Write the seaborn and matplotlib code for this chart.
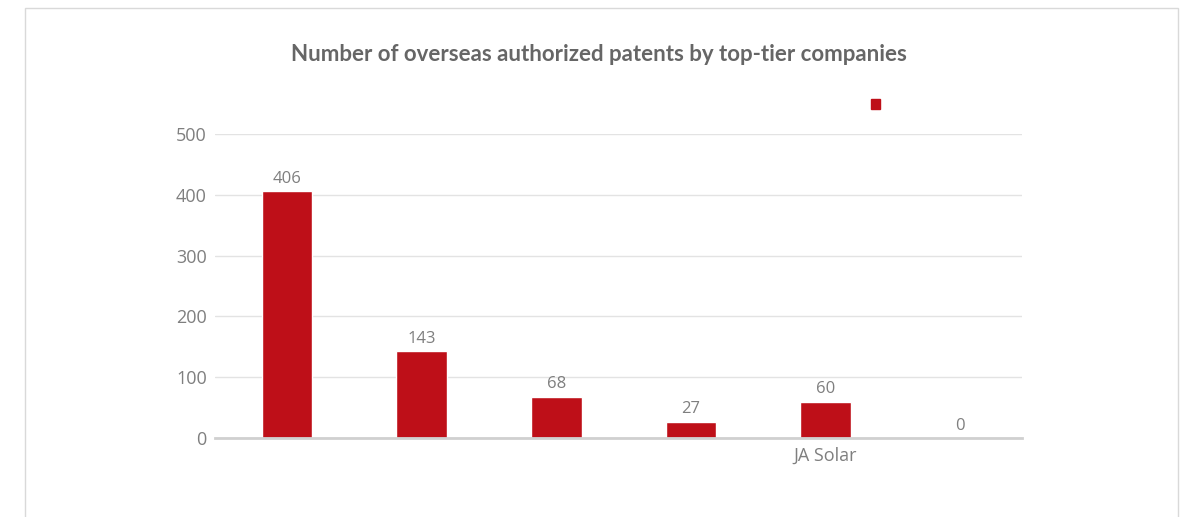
import matplotlib
matplotlib.use("Agg")
import matplotlib.pyplot as plt
import matplotlib.patches as mpatches
import pandas as pd
import seaborn as sns

# Chart data
companies = ["Company A", "Company B", "Company C", "Company D", "JA Solar", "Company F"]
patents = [406, 143, 68, 27, 60, 0]
tick_labels = ["", "", "", "", "JA Solar", ""]
y_ticks = [0, 100, 200, 300, 400, 500]

df = pd.DataFrame({"company": companies, "patents": patents})

sns.set_theme(style="white")
plt.rcParams["font.family"] = ["Open Sans", "DejaVu Sans"]

bar_color = "#BE0F18"
text_gray = "#7F7F7F"

fig = plt.figure(figsize=(11.92, 5.17), dpi=100)
ax = fig.add_axes([0.1804, 0.1528, 0.677, 0.588])

sns.barplot(data=df, x="company", y="patents", color=bar_color,
            width=0.375, saturation=1, ax=ax)

ax.set_ylim(0, 500)
ax.set_xlim(-0.535, len(companies) - 0.54)
ax.set_yticks(y_ticks)
ax.set_yticklabels([str(t) for t in y_ticks], fontsize=13, color=text_gray)
ax.set_xticks(range(len(companies)))
ax.set_xticklabels(tick_labels, fontsize=13, color=text_gray)
ax.tick_params(axis="y", length=0, pad=6)
ax.tick_params(axis="x", length=0, pad=6)
ax.set_xlabel("")
ax.set_ylabel("")

# gridlines and axis line
ax.yaxis.grid(True, color="#E3E3E3", linewidth=1)
ax.set_axisbelow(True)
for side in ["top", "right", "left"]:
    ax.spines[side].set_visible(False)
ax.spines["bottom"].set_color("#D0D0D0")
ax.spines["bottom"].set_linewidth(2)

# data labels
ax.bar_label(ax.containers[0], labels=[str(v) for v in patents],
             padding=3, fontsize=12, color=text_gray)

# title
fig.text(0.5025, 0.895, "Number of overseas authorized patents by top-tier companies",
         ha="center", va="center", fontsize=16, fontweight="bold", color="#666666",
         family=["Lato", "DejaVu Sans"])

# legend marker without text
handle = mpatches.Patch(color=bar_color)
fig.legend([handle], [""], loc="center", bbox_to_anchor=(0.7345, 0.795),
           frameon=False, handlelength=0.65, handleheight=0.65, handletextpad=0)

# chart frame
frame = mpatches.Rectangle((25 / 1192, -0.05), 1153 / 1192, 1.05 - 8 / 517,
                           transform=fig.transFigure, fill=False,
                           edgecolor="#D9D9D9", linewidth=1)
fig.patches.append(frame)

fig.savefig("out.png", dpi=100)
